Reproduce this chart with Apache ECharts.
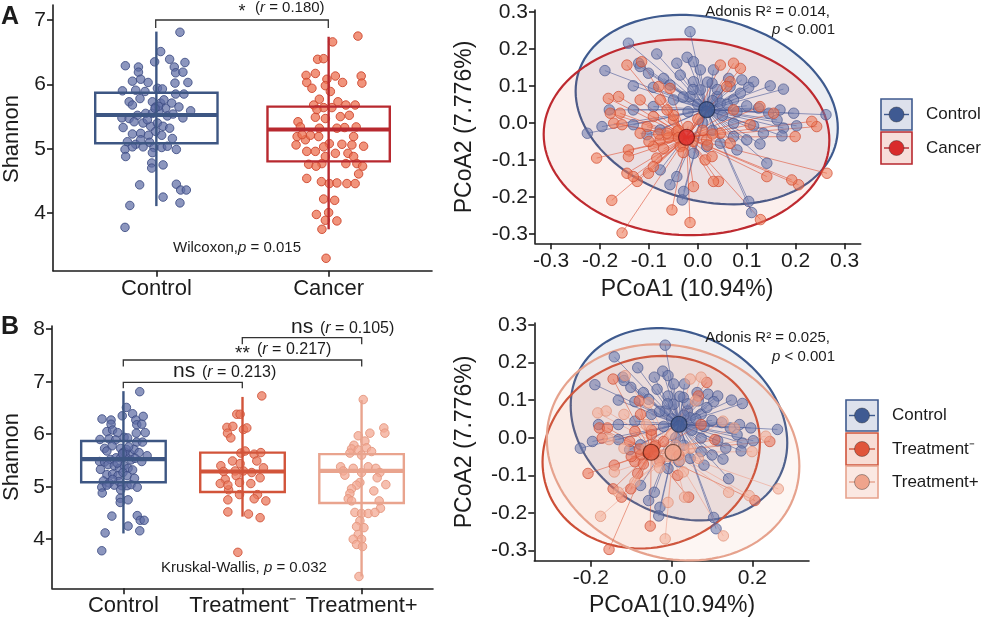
<!DOCTYPE html>
<html><head><meta charset="utf-8">
<script src="https://cdn.jsdelivr.net/npm/echarts@6/dist/echarts.min.js"></script>
<style>html,body{margin:0;padding:0;background:#fff}#c{width:986px;height:620px}</style>
</head><body><div id="c"></div>
<script>
// ---------------- DATA ----------------
const groupsA = ['Control', 'Cancer'];
const groupsB = ['Control', 'Treatment\u207B', 'Treatment+'];
const boxTicksA = [4, 5, 6, 7];
const boxTicksB = [4, 5, 6, 7, 8];
const pcoaTicksA = [-0.3, -0.2, -0.1, 0, 0.1, 0.2, 0.3];
const pcoaTicksB = [-0.2, 0, 0.2];

// Shannon values: [jitter offset from group centre, Shannon]
const controlShannon = [
[0.137,6.81],[0.025,6.51],[-0.010,6.35],[0.077,6.39],[0.166,6.34],[-0.180,6.29],[-0.104,6.27],[-0.104,6.19],[0.104,6.27],[0.112,6.18],
[0.154,6.19],[-0.139,6.05],[-0.091,6.08],[-0.048,6.03],[0.183,6.03],[0.108,6.02],[-0.197,5.90],[-0.120,5.91],[-0.066,5.89],[0.006,5.94],
[0.035,5.93],[0.112,5.85],[0.160,5.85],[-0.158,5.73],[-0.139,5.68],[-0.095,5.78],[-0.023,5.73],[-0.004,5.65],[0.025,5.71],[0.054,5.63],
[0.089,5.71],[0.131,5.65],[0.199,5.59],[-0.200,5.48],[-0.158,5.47],[-0.110,5.52],[-0.062,5.55],[-0.023,5.55],[0.015,5.59],[0.064,5.51],
[0.097,5.54],[0.154,5.48],[-0.129,5.42],[-0.077,5.40],[-0.033,5.35],[0.006,5.40],[0.039,5.35],[0.077,5.32],[-0.139,5.23],[-0.091,5.24],
[-0.046,5.21],[-0.004,5.27],[0.031,5.21],[-0.168,5.11],[-0.120,5.07],[-0.077,5.03],[-0.039,5.10],[-0.014,5.02],[0.031,5.02],[0.064,5.04],
[0.116,4.99],[-0.182,4.99],[-0.178,4.88],[-0.139,5.03],[-0.023,4.94],[-0.027,4.78],[-0.027,4.70],[0.039,4.75],[-0.097,4.44],[0.116,4.45],
[0.141,4.36],[0.174,4.36],[0.039,4.25],[0.137,4.16],[-0.154,4.12],[-0.182,3.78],[0.012,5.66],[-0.008,5.63],[0.044,5.76],[-0.052,5.45],
[-0.091,5.14],[0.093,5.16],[-0.193,5.33]
];
const cancerShannon = [
[0.170,6.75],[0.023,6.66],[-0.064,6.39],[-0.029,6.40],[-0.131,6.14],[-0.077,6.17],[0.039,6.13],[0.189,6.13],[-0.127,6.03],[-0.097,5.94],
[-0.010,6.08],[-0.019,5.98],[0.081,6.03],[0.193,6.02],[0.010,5.89],[-0.054,5.77],[-0.087,5.68],[-0.029,5.64],[0.054,5.73],[0.100,5.68],
[0.154,5.68],[0.019,5.64],[-0.077,5.49],[-0.019,5.47],[-0.178,5.42],[-0.164,5.34],[0.120,5.52],[0.160,5.34],[0.093,5.33],[0.048,5.32],
[-0.054,5.32],[-0.183,5.19],[-0.135,5.14],[-0.058,5.19],[0.004,5.08],[0.077,5.07],[0.145,5.19],[0.203,5.04],[-0.189,5.06],[-0.029,5.03],
[-0.127,4.96],[-0.077,4.96],[-0.019,4.88],[0.112,4.93],[0.145,4.88],[-0.116,4.76],[-0.039,4.77],[0.100,4.77],[0.164,4.77],[0.197,4.73],
[0.174,4.61],[-0.127,4.54],[-0.042,4.49],[0.004,4.46],[0.048,4.47],[0.106,4.46],[0.154,4.46],[-0.029,4.22],[0.035,4.20],[0.000,4.01],
[-0.071,3.98],[-0.019,3.89],[0.048,3.88],[-0.039,3.75],[-0.015,3.30],[-0.073,4.73],[-0.106,5.21],[0.068,5.50],[0.039,4.93],[-0.068,5.61],
[0.135,5.06],[-0.154,5.22]
];
const treatMinusShannon = [
[0.162,6.73],[-0.048,6.38],[-0.020,6.38],[-0.131,6.13],[-0.081,6.15],[0.008,6.09],[0.036,6.12],[-0.126,6.02],[-0.098,5.93],[-0.014,5.64],
[0.022,5.68],[0.098,5.62],[0.154,5.65],[-0.084,5.49],[-0.020,5.44],[0.120,5.49],[-0.182,5.40],[0.176,5.36],[-0.159,5.29],[-0.062,5.30],
[0.008,5.30],[0.078,5.27],[-0.145,5.14],[-0.053,5.21],[0.148,5.17],[-0.187,5.06],[-0.025,5.08],[0.070,5.06],[-0.117,4.94],[-0.025,4.85],
[0.126,4.85],[0.098,4.77],[0.196,4.73],[-0.123,4.75],[-0.123,4.52],[0.050,4.48],[0.148,4.41],[-0.039,3.75],[-0.123,5.03]
];
const treatPlusShannon = [
[0.014,6.66],[0.187,6.12],[0.196,6.02],[0.070,6.02],[-0.028,5.97],[0.028,5.87],[-0.064,5.79],[-0.084,5.72],[-0.028,5.70],[0.042,5.74],
[0.084,5.67],[0.000,5.60],[-0.098,5.64],[-0.176,5.38],[-0.154,5.30],[-0.070,5.35],[0.056,5.38],[0.120,5.35],[0.154,5.27],[0.000,5.27],
[0.131,5.17],[-0.014,5.08],[-0.042,5.03],[0.204,5.04],[-0.084,4.96],[0.103,4.92],[-0.098,4.87],[-0.112,4.77],[-0.084,4.73],[0.148,4.73],
[0.159,4.59],[-0.056,4.51],[0.000,4.49],[0.056,4.49],[0.112,4.51],[-0.014,4.35],[-0.042,4.24],[0.020,4.22],[-0.028,4.09],[-0.070,4.00],
[0.000,4.00],[-0.042,3.90],[0.008,3.86],[-0.022,3.29],[-0.140,5.22]
];
// box statistics: [lower whisker, Q1, median, Q3, upper whisker]
const controlBox = [4.11, 5.085, 5.525, 5.87, 6.82];
const cancerBox = [3.75, 4.805, 5.30, 5.655, 6.74];
const treatMinusBox = [4.43, 4.90, 5.29, 5.65, 6.71];
const treatPlusBox = [3.29, 4.69, 5.30, 5.62, 6.65];

// PCoA coordinates [PCoA1, PCoA2]
const controlPCoA = [
[-0.016,0.246],[-0.142,0.215],[-0.084,0.186],[-0.121,0.161],[-0.022,0.177],[-0.009,0.165],[-0.043,0.161],[-0.190,0.141],[-0.101,0.134],[-0.070,0.120],
[-0.036,0.129],[0.005,0.143],[0.032,0.143],[-0.132,0.100],[-0.091,0.096],[-0.057,0.102],[-0.009,0.111],[0.029,0.107],[0.063,0.120],[0.090,0.116],
[0.114,0.111],[0.148,0.100],[0.175,0.091],[0.066,0.098],[0.104,0.096],[-0.181,0.035],[-0.132,0.035],[-0.091,0.044],[0.073,0.062],[0.100,0.046],
[0.124,0.040],[0.145,0.026],[0.168,0.035],[0.196,0.026],[0.262,0.022],[-0.196,-0.010],[-0.226,-0.028],[-0.132,-0.005],[-0.104,-0.032],[0.073,-0.001],
[0.114,-0.008],[0.134,-0.028],[0.175,-0.014],[0.202,-0.008],[0.073,-0.037],[0.100,-0.046],[0.127,-0.057],[0.172,-0.035],[0.018,-0.064],[0.046,-0.055],
[0.141,-0.109],[-0.077,-0.127],[-0.043,-0.145],[-0.057,-0.167],[-0.029,-0.185],[-0.032,-0.208],[0.104,-0.212],[0.110,-0.242],[-0.009,-0.082],[0.080,-0.073],
[0.018,0.031],[0.039,0.071],[0.046,0.053],[-0.016,0.071],[-0.050,0.062],[0.162,0.008],[0.005,0.089],[-0.077,-0.019],[-0.118,0.152],[0.087,0.080],
[0.000,0.050],[0.030,0.060],[0.050,0.020],[-0.020,0.030],[0.040,0.090],[0.010,0.000],[0.060,0.050],[-0.030,0.070],[0.020,0.110],[0.080,0.030],
[0.030,-0.020],[-0.010,0.090]
];
const treatMinusPCoA = [
[-0.145,0.156],[-0.179,0.026],[-0.159,0.026],[-0.172,-0.001],[-0.207,-0.095],[-0.142,-0.073],[-0.145,-0.136],[-0.124,-0.158],[-0.155,-0.297],[-0.101,-0.136],
[-0.053,-0.235],[0.042,-0.158],[0.015,-0.100],[0.206,-0.167],[0.243,-0.010],[0.107,-0.005],[0.073,0.035],[0.087,0.147],[-0.080,0.098],[-0.077,0.062],
[-0.091,0.017],[-0.050,0.008],[-0.104,-0.010],[-0.077,-0.046],[-0.043,-0.023],[0.018,-0.046],[0.066,0.111],[-0.091,-0.064],[-0.084,-0.095],
[-0.060,-0.040],[-0.040,-0.020],[-0.080,-0.030],[-0.030,-0.060],[-0.070,-0.070],[-0.050,0.020],[-0.100,-0.050],[-0.020,-0.010]
];
const treatPlusPCoA = [
[-0.115,0.165],[-0.183,0.066],[-0.162,0.071],[-0.155,-0.005],[-0.142,-0.091],[-0.132,-0.145],[-0.176,-0.209],[-0.091,-0.118],[-0.016,-0.269],[-0.009,-0.172],
[0.032,-0.158],[0.128,-0.261],[0.141,-0.145],[0.192,-0.154],[0.264,-0.136],[0.199,-0.037],[0.233,0.004],[0.127,0.044],[0.046,0.156],[0.073,0.161],
[-0.057,0.093],[-0.118,0.062],[-0.063,0.035],[-0.118,-0.028],[-0.063,-0.028],[0.046,-0.028],[0.066,-0.055],[0.059,0.098],[-0.036,-0.064],[0.029,-0.091],
[0.155,0.026],[-0.010,-0.050],[0.010,-0.020],[-0.030,-0.080],[0.020,-0.060],[0.000,0.010],[-0.040,-0.040],[0.030,-0.030]
];
const cancerPCoA = treatMinusPCoA.concat(treatPlusPCoA);

// confidence level of the group ellipses
const ellipseLevel = 0.96;

// ---------------- HELPERS ----------------
const FONT = '"Liberation Sans", Arial, Helvetica, sans-serif';
const INK = '#1c1c1c';

function groupStats(pts) {
  const n = pts.length;
  let mx = 0, my = 0;
  pts.forEach(p => { mx += p[0]; my += p[1]; });
  mx /= n; my /= n;
  let sxx = 0, syy = 0, sxy = 0;
  pts.forEach(p => { const dx = p[0] - mx, dy = p[1] - my; sxx += dx * dx; syy += dy * dy; sxy += dx * dy; });
  return { n, mx, my, sxx: sxx / (n - 1), syy: syy / (n - 1), sxy: sxy / (n - 1) };
}
// normal-theory confidence ellipse (F quantile with df1 = 2 has a closed form)
function ellipse(pts) {
  const s = groupStats(pts);
  const d2 = s.n - 1;
  const f = (d2 / 2) * (Math.pow(1 - ellipseLevel, -2 / d2) - 1);
  const r = Math.sqrt(2 * f);
  const a = Math.sqrt(s.sxx), b = s.sxy / a, c = Math.sqrt(s.syy - b * b);
  const out = [];
  for (let k = 0; k <= 120; k++) {
    const t = 2 * Math.PI * k / 120;
    out.push([s.mx + r * a * Math.cos(t), s.my + r * (b * Math.cos(t) + c * Math.sin(t))]);
  }
  return out;
}

function valueAxis(gi, min, max, ticks, fmt, size) {
  return {
    type: 'value', gridIndex: gi, min: min, max: max,
    axisLine: { show: true, onZero: false, lineStyle: { color: INK, width: 1.6 } },
    axisTick: { show: true, length: 6, customValues: ticks, lineStyle: { color: INK, width: 1.6 } },
    axisLabel: { show: true, customValues: ticks, formatter: fmt, fontSize: size || 21, color: INK, fontFamily: FONT, margin: 7 },
    splitLine: { show: false }
  };
}

function boxSeries(gi, boxes, colors) {
  return {
    type: 'custom', xAxisIndex: gi, yAxisIndex: gi, z: 5, clip: false, silent: true,
    encode: { x: 0, y: [1, 2, 3, 4, 5] },
    data: boxes.map((b, i) => [i + 1].concat(b)),
    renderItem: function (params, api) {
      const x = api.value(0), lo = api.value(1), q1 = api.value(2), md = api.value(3), q3 = api.value(4), hi = api.value(5);
      const hw = 0.355;
      const col = colors[params.dataIndex];
      const tl = api.coord([x - hw, q3]), br = api.coord([x + hw, q1]);
      const m1 = api.coord([x - hw, md]), m2 = api.coord([x + hw, md]);
      const ph = api.coord([x, hi]), pl = api.coord([x, lo]);
      return {
        type: 'group', children: [
          { type: 'line', shape: { x1: ph[0], y1: ph[1], x2: pl[0], y2: pl[1] }, style: { stroke: col, lineWidth: 2.4 } },
          { type: 'rect', shape: { x: tl[0], y: tl[1], width: br[0] - tl[0], height: br[1] - tl[1] }, style: { stroke: col, lineWidth: 2.4, fill: 'rgba(0,0,0,0)' } },
          { type: 'line', shape: { x1: m1[0], y1: m1[1], x2: m2[0], y2: m2[1] }, style: { stroke: col, lineWidth: 4.2 } }
        ]
      };
    }
  };
}

function jitterSeries(gi, groupIndex, pts, fill, border) {
  return {
    type: 'scatter', xAxisIndex: gi, yAxisIndex: gi, z: 3, silent: true,
    symbolSize: 8.5,
    itemStyle: { color: fill, borderColor: border, borderWidth: 1, opacity: 1 },
    data: pts.map(p => [groupIndex + p[0], p[1]])
  };
}

function pcoaSeries(gi, groups) {
  const out = [];
  groups.forEach(g => {
    const el = ellipse(g.pts);
    out.push({
      type: 'custom', xAxisIndex: gi, yAxisIndex: gi, z: 1, clip: false, silent: true,
      data: [[0, 0]],
      renderItem: function (p, api) {
        return { type: 'polygon', shape: { points: el.map(q => api.coord(q)) }, style: { fill: g.fill, stroke: g.line, lineWidth: 2.2 } };
      }
    });
  });
  groups.forEach(g => {
    const s = groupStats(g.pts);
    out.push({
      type: 'custom', xAxisIndex: gi, yAxisIndex: gi, z: 2, clip: false, silent: true,
      data: g.pts,
      renderItem: function (p, api) {
        const a = api.coord([api.value(0), api.value(1)]);
        const c = api.coord([s.mx, s.my]);
        return { type: 'line', shape: { x1: a[0], y1: a[1], x2: c[0], y2: c[1] }, style: { stroke: g.seg, lineWidth: 0.9 } };
      }
    });
  });
  groups.forEach(g => {
    out.push({
      type: 'scatter', xAxisIndex: gi, yAxisIndex: gi, z: 3, silent: true, symbolSize: 10.5,
      itemStyle: { color: g.pt, borderColor: g.ptBorder, borderWidth: 1 },
      data: g.pts
    });
  });
  groups.forEach(g => {
    const s = groupStats(g.pts);
    out.push({
      type: 'scatter', xAxisIndex: gi, yAxisIndex: gi, z: 4, silent: true, symbolSize: 16,
      itemStyle: { color: g.cen, borderColor: g.cenBorder, borderWidth: 1.2 },
      data: [[s.mx, s.my]]
    });
  });
  return out;
}

// ---------------- COLOURS ----------------
const C = {
  ctrlBox: '#3D5683', ctrlPt: 'rgba(96,110,165,0.72)', ctrlPtB: 'rgba(60,75,130,0.85)',
  canBox: '#B8292F', canPt: 'rgba(236,112,80,0.75)', canPtB: 'rgba(205,70,45,0.9)',
  tmBox: '#D2543A', tmPt: 'rgba(234,120,92,0.75)', tmPtB: 'rgba(208,85,60,0.9)',
  tpBox: '#E9A48E', tpPt: 'rgba(243,170,148,0.75)', tpPtB: 'rgba(228,150,125,0.9)'
};

// ---------------- TEXT HELPERS ----------------
function txt(x, y, text, size, opts) {
  opts = opts || {};
  return {
    type: 'text', x: x, y: y, rotation: opts.rot || 0, silent: true, z: 10,
    style: {
      text: text, fontSize: size, fontFamily: FONT, fill: opts.color || INK, fontWeight: opts.bold ? 'bold' : 'normal',
      align: opts.align || 'center', textAlign: opts.align || 'center',
      verticalAlign: 'middle', textVerticalAlign: 'middle',
      rich: { i: { fontStyle: 'italic', fontSize: size, fontFamily: FONT, fill: opts.color || INK },
              n: { fontSize: size, fontFamily: FONT, fill: opts.color || INK } }
    }
  };
}
function bracket(x1, x2, y, drop) {
  return { type: 'polyline', silent: true, z: 10, shape: { points: [[x1, y + drop], [x1, y], [x2, y], [x2, y + drop]] }, style: { stroke: '#333', lineWidth: 1.3, fill: null } };
}
function legendKey(x, y, w, h, fill, stroke, dot) {
  return [
    { type: 'rect', silent: true, z: 10, shape: { x: x, y: y, width: w, height: h }, style: { fill: fill, stroke: stroke, lineWidth: 1.6 } },
    { type: 'line', silent: true, z: 10, shape: { x1: x + 3, y1: y + h / 2, x2: x + w - 3, y2: y + h / 2 }, style: { stroke: stroke, lineWidth: 1.4 } },
    { type: 'circle', silent: true, z: 11, shape: { cx: x + w / 2, cy: y + h / 2, r: 7.5 }, style: { fill: dot, stroke: 'rgba(40,40,40,0.5)', lineWidth: 0.8 } }
  ];
}

const graphics = [].concat(
  [txt(10, 17, 'A', 25, { bold: true }), txt(10, 327, 'B', 25, { bold: true }),
   txt(12, 139, 'Shannon', 22, { rot: Math.PI / 2 }), txt(12, 457, 'Shannon', 22, { rot: Math.PI / 2 }),
   txt(465, 127, 'PCoA2 (7.776%)', 23, { rot: Math.PI / 2 }), txt(465, 442, 'PCoA2 (7.776%)', 23, { rot: Math.PI / 2 }),
   txt(687, 290, 'PCoA1 (10.94%)', 23), txt(672, 606, 'PCoA1(10.94%)', 23),
   bracket(155.7, 328.3, 20, 8),
   txt(242, 12, '*', 18), txt(255, 8, '({i|r} = 0.180)', 15, { align: 'left' }),
   txt(237, 248, 'Wilcoxon,{i|p} = 0.015', 15),
   txt(830, 12, 'Adonis R\u00B2 = 0.014,', 15, { align: 'right' }), txt(835, 30, '{i|p} < 0.001', 15, { align: 'right' }),
   txt(830, 338, 'Adonis R\u00B2 = 0.025,', 15, { align: 'right' }), txt(835, 357, '{i|p} < 0.001', 15, { align: 'right' }),
   bracket(123.3, 242.3, 382.3, 6), bracket(123.3, 361.7, 360, 6.5), bracket(242.3, 361.7, 337.7, 6.5),
   txt(173, 371, 'ns', 21, { align: 'left' }), txt(202, 373, '({i|r} = 0.213)', 16, { align: 'left' }),
   txt(235, 354, '**', 19, { align: 'left' }), txt(257, 350, '({i|r} = 0.217)', 16, { align: 'left' }),
   txt(291, 327, 'ns', 21, { align: 'left' }), txt(320, 329, '({i|r} = 0.105)', 16, { align: 'left' }),
   txt(244, 568, 'Kruskal-Wallis, {i|p} = 0.032', 15),
   txt(926, 114, 'Control', 17, { align: 'left' }), txt(926, 148, 'Cancer', 17, { align: 'left' }),
   txt(892, 415, 'Control', 17, { align: 'left' }), txt(892, 449, 'Treatment\u207B', 17, { align: 'left' }), txt(892, 482, 'Treatment+', 17, { align: 'left' })
  ],
  legendKey(881, 99, 31, 31, '#DDE1EC', '#3F5A8E', '#3F5A92'),
  legendKey(881, 132, 31, 32, '#F7DEDA', '#B8292F', '#D92B2B'),
  legendKey(846, 400, 32, 31, '#DDE1EC', '#3F5A8E', '#3F5A92'),
  legendKey(846, 433, 32, 32, '#F8DDD5', '#D0553C', '#E0553A'),
  legendKey(846, 466, 32, 32, '#FBE8E2', '#E6A28D', '#EFA48C')
);

const fmt1 = v => (Math.abs(v) < 1e-9 ? 0 : v).toFixed(1);

const option = {
  animation: false,
  backgroundColor: '#ffffff',
  textStyle: { fontFamily: FONT },
  grid: [
    { left: 53, top: 5, width: 379, height: 265.7, outerBoundsMode: 'none' },
    { left: 535, top: 10, width: 325.7, height: 233.3, outerBoundsMode: 'none' },
    { left: 52, top: 326, width: 381, height: 262.3, outerBoundsMode: 'none' },
    { left: 534.3, top: 323, width: 274.7, height: 237.7, outerBoundsMode: 'none' }
  ],
  xAxis: [
    valueAxis(0, 0.4, 2.6, [1, 2], v => groupsA[Math.round(v) - 1], 22),
    valueAxis(1, -0.333, 0.333, pcoaTicksA, fmt1),
    valueAxis(2, 0.4, 3.6, [1, 2, 3], v => groupsB[Math.round(v) - 1], 22),
    valueAxis(3, -0.34, 0.34, pcoaTicksB, fmt1)
  ],
  yAxis: [
    valueAxis(0, 3.107, 7.233, boxTicksA, v => String(v)),
    valueAxis(1, -0.325, 0.3046, pcoaTicksA, fmt1),
    valueAxis(2, 3.065, 8.061, boxTicksB, v => String(v)),
    valueAxis(3, -0.327, 0.305, pcoaTicksA, fmt1)
  ],
  graphic: { elements: graphics },
  series: [].concat(
    [jitterSeries(0, 1, controlShannon, C.ctrlPt, C.ctrlPtB), jitterSeries(0, 2, cancerShannon, C.canPt, C.canPtB),
     boxSeries(0, [controlBox, cancerBox], [C.ctrlBox, C.canBox]),
     jitterSeries(2, 1, controlShannon, C.ctrlPt, C.ctrlPtB), jitterSeries(2, 2, treatMinusShannon, C.tmPt, C.tmPtB),
     jitterSeries(2, 3, treatPlusShannon, C.tpPt, C.tpPtB),
     boxSeries(2, [controlBox, treatMinusBox, treatPlusBox], [C.ctrlBox, C.tmBox, C.tpBox])],
    pcoaSeries(1, [
      { pts: controlPCoA, fill: 'rgba(70,90,140,0.10)', line: '#3E5A8E', seg: 'rgba(70,88,150,0.65)', pt: 'rgba(105,120,172,0.72)', ptBorder: 'rgba(70,85,140,0.85)', cen: '#3F5A93', cenBorder: '#22304f' },
      { pts: cancerPCoA, fill: 'rgba(230,100,80,0.10)', line: '#BE2A30', seg: 'rgba(222,78,50,0.65)', pt: 'rgba(236,118,84,0.72)', ptBorder: 'rgba(210,78,50,0.9)', cen: '#DD2A2A', cenBorder: '#6e1414' }
    ]),
    pcoaSeries(3, [
      { pts: controlPCoA, fill: 'rgba(70,90,140,0.10)', line: '#3E5A8E', seg: 'rgba(70,88,150,0.65)', pt: 'rgba(105,120,172,0.72)', ptBorder: 'rgba(70,85,140,0.85)', cen: '#3F5A93', cenBorder: '#22304f' },
      { pts: treatMinusPCoA, fill: 'rgba(225,100,70,0.08)', line: '#CC4E36', seg: 'rgba(222,95,65,0.65)', pt: 'rgba(232,112,85,0.72)', ptBorder: 'rgba(205,80,55,0.9)', cen: '#E0553A', cenBorder: '#5e1e12' },
      { pts: treatPlusPCoA, fill: 'rgba(240,165,140,0.10)', line: '#E6A28D', seg: 'rgba(238,160,138,0.65)', pt: 'rgba(243,172,150,0.72)', ptBorder: 'rgba(225,145,120,0.9)', cen: '#EFA48C', cenBorder: '#5e3a30' }
    ])
  )
};

const chart = echarts.init(document.getElementById('c'), null, { renderer: 'canvas', width: 986, height: 620 });
chart.setOption(option);
</script>
</body></html>
